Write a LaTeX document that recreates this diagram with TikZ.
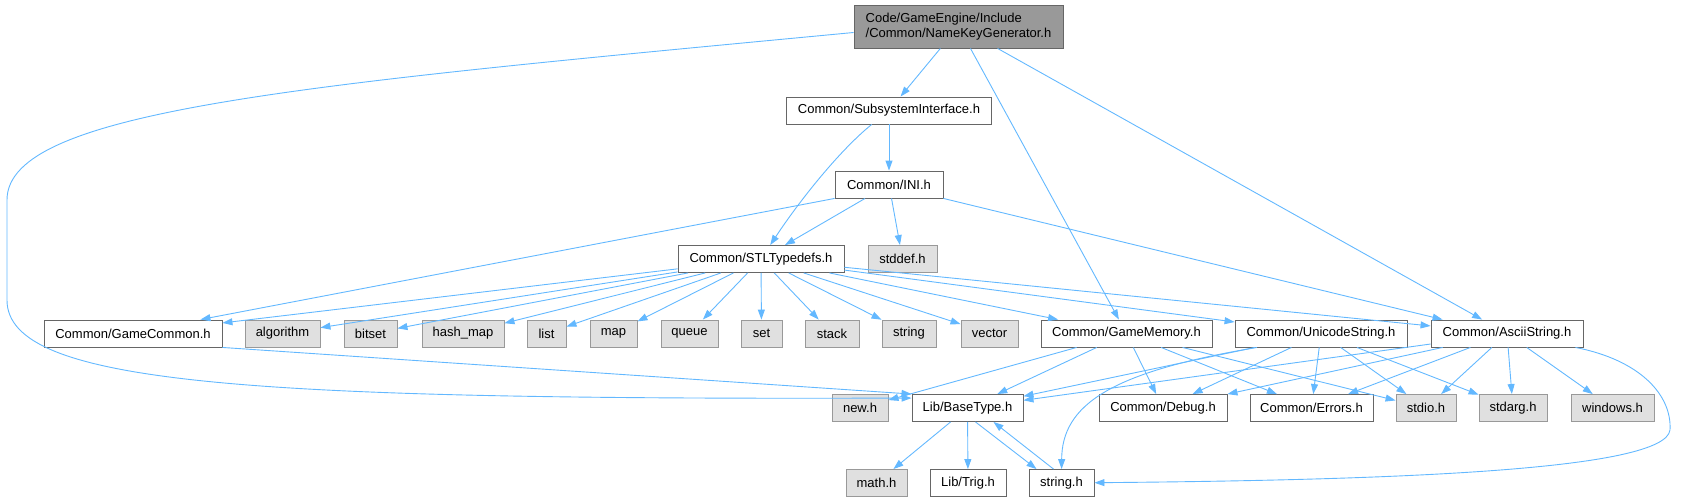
\documentclass[tikz,border=0pt]{standalone}
\usepackage{fontspec}
\setmainfont{Liberation Sans}
\usetikzlibrary{arrows.meta}

\definecolor{edgeblue}{HTML}{63B8FF}
\definecolor{boxline}{HTML}{666666}
\definecolor{extline}{HTML}{999999}
\definecolor{extfill}{HTML}{E0E0E0}
\definecolor{rootfill}{HTML}{999999}

\begin{document}
\begin{tikzpicture}[x=1pt, y=-1pt, >={Triangle[length=10pt,width=7pt]},
  hdr/.style={draw=boxline, fill=white, line width=0.9pt, minimum height=27pt, inner sep=0pt, font=\fontsize{13}{15}\selectfont},
  sysh/.style={hdr, draw=extline, fill=extfill},
  rooth/.style={hdr, fill=rootfill, align=left, minimum height=43pt},
  dep/.style={->, draw=edgeblue, line width=0.9pt}]
  \useasboundingbox (0,0) rectangle (1684,501);

  \node[rooth, minimum width=209pt] (root) at (958.5,26.5) {Code/GameEngine/Include\\/Common/NameKeyGenerator.h};
  \node[hdr, minimum width=205pt] (sub) at (889,110.5) {Common/SubsystemInterface.h};
  \node[hdr, minimum width=108pt] (ini) at (889,184.5) {Common/INI.h};
  \node[hdr, minimum width=166pt] (stl) at (761,259) {Common/STLTypedefs.h};
  \node[sysh, minimum width=69pt] (stddef) at (902.5,259) {stddef.h};

  \node[hdr, minimum width=178pt] (gc) at (133,333.5) {Common/GameCommon.h};
  \node[sysh, minimum width=75pt] (alg) at (282.5,333.5) {algorithm};
  \node[sysh, minimum width=53pt] (bitset) at (370.5,333.5) {bitset};
  \node[sysh, minimum width=82pt] (hashmap) at (463,333.5) {hash\_map};
  \node[sysh, minimum width=39pt] (list) at (546.5,333.5) {list};
  \node[sysh, minimum width=47pt] (map) at (613.5,333.5) {map};
  \node[sysh, minimum width=57pt] (queue) at (689.5,333.5) {queue};
  \node[sysh, minimum width=41pt] (set) at (761.5,333.5) {set};
  \node[sysh, minimum width=54pt] (stack) at (832,333.5) {stack};
  \node[sysh, minimum width=54pt] (string) at (909,333.5) {string};
  \node[sysh, minimum width=57pt] (vector) at (989.5,333.5) {vector};
  \node[hdr, minimum width=171pt] (gm) at (1126.5,333.5) {Common/GameMemory.h};
  \node[hdr, minimum width=172pt] (us) at (1321,333.5) {Common/UnicodeString.h};
  \node[hdr, minimum width=152pt] (as) at (1507,333.5) {Common/AsciiString.h};

  \node[sysh, minimum width=56pt] (newh) at (860,408) {new.h};
  \node[hdr, minimum width=111pt] (bt) at (967.5,408) {Lib/BaseType.h};
  \node[hdr, minimum width=128pt] (dbg) at (1163,408) {Common/Debug.h};
  \node[hdr, minimum width=123pt] (err) at (1311.5,408) {Common/Errors.h};
  \node[sysh, minimum width=60pt] (stdio) at (1426,408) {stdio.h};
  \node[sysh, minimum width=68pt] (stdarg) at (1513,408) {stdarg.h};
  \node[sysh, minimum width=83pt] (windows) at (1612.5,408) {windows.h};

  \node[sysh, minimum width=61pt] (math) at (876.5,483) {math.h};
  \node[hdr, minimum width=76pt] (trig) at (968,483) {Lib/Trig.h};
  \node[hdr, minimum width=65pt] (strh) at (1061.5,483) {string.h};

  \draw[dep] (root) -- (sub);
  \draw[dep] (root) -- (gm);
  \draw[dep] (root) -- (as);
  \draw[dep] ([yshift=-6pt]root.west) .. controls (300,85) and (7,110) .. (7,200) -- (7,300) .. controls (7,385) and (250,400) .. ([yshift=-4pt]bt.north west);

  \draw[dep] (sub) -- (ini);
  \draw[dep] (sub) .. controls (840,150) and (800,200) .. (stl);
  \draw[dep] (ini) -- (stl);
  \draw[dep] (ini) -- (stddef);
  \draw[dep] (ini.south west) -- ([xshift=-22pt]gc.north east);
  \draw[dep] (ini.south east) -- ([xshift=12pt]as.north west);

  \draw[dep] (stl) -- (gc);
  \draw[dep] (stl) -- (alg);
  \draw[dep] (stl) -- (bitset);
  \draw[dep] (stl) -- (hashmap);
  \draw[dep] (stl) -- (list);
  \draw[dep] (stl) -- (map);
  \draw[dep] (stl) -- (queue);
  \draw[dep] (stl) -- (set);
  \draw[dep] (stl) -- (stack);
  \draw[dep] (stl) -- (string);
  \draw[dep] (stl) -- (vector);
  \draw[dep] (stl) -- (gm);
  \draw[dep] (stl) -- (us);
  \draw[dep] (stl) -- (as);

  \draw[dep] (gc.south east) -- (bt.north west);

  \draw[dep] (gm) -- (newh);
  \draw[dep] (gm) -- (bt);
  \draw[dep] (gm) -- (dbg);
  \draw[dep] (gm) -- (err);
  \draw[dep] (gm) -- (stdio);

  \draw[dep] (us) -- (bt);
  \draw[dep] (us) -- (dbg);
  \draw[dep] (us) -- (err);
  \draw[dep] (us) -- (stdio);
  \draw[dep] (us) -- (stdarg);
  \draw[dep] ([xshift=-64pt]us.south) .. controls (1110,372) and (1062,405) .. (strh);

  \draw[dep] (as) -- (bt);
  \draw[dep] (as) -- (dbg);
  \draw[dep] (as) -- (err);
  \draw[dep] (as) -- (stdio);
  \draw[dep] (as) -- (stdarg);
  \draw[dep] (as) -- (windows);
  \draw[dep] ([xshift=-8pt]as.south east) .. controls (1640,360) and (1672,395) .. (1670,430) .. controls (1665,470) and (1400,480) .. (strh);

  \draw[dep] (bt) -- (math);
  \draw[dep] (bt) -- (trig);
  \draw[dep] ([xshift=8pt]bt.south) -- ([xshift=-25pt]strh.north);
  \draw[dep] ([xshift=-8pt]strh.north) -- ([xshift=26pt]bt.south);
\end{tikzpicture}
\end{document}
